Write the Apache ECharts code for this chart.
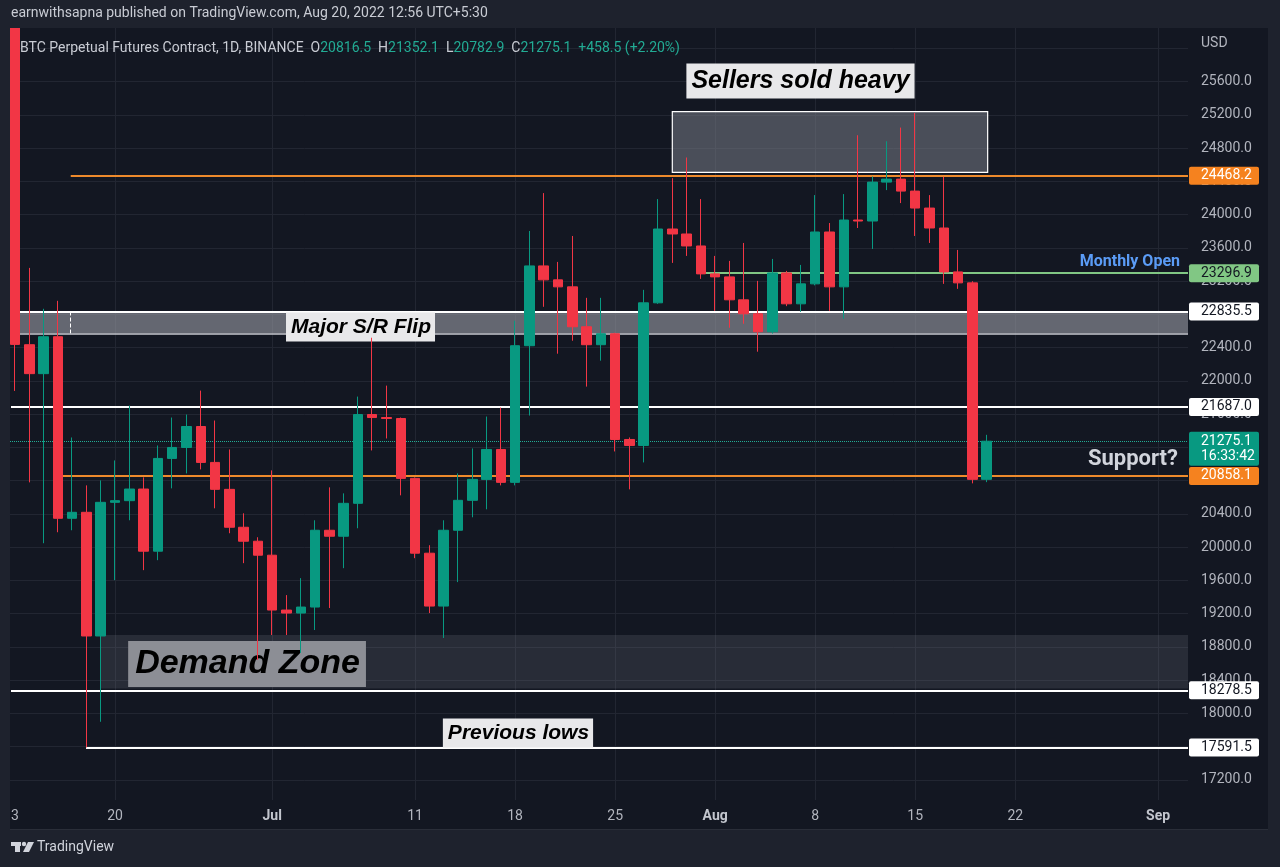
<!DOCTYPE html>
<html>
<head>
<meta charset="utf-8">
<title>BTC Perpetual Futures 1D</title>
<script src="https://cdn.jsdelivr.net/npm/echarts@6/dist/echarts.min.js"></script>
<style>
  html, body { margin: 0; padding: 0; background: #1e222d; }
  #chart { width: 1280px; height: 867px; }
</style>
</head>
<body>
<div id="chart"></div>
<script>
// Daily candles, index 0 = Jun 13 2022 ... index 68 = Aug 20 2022
const opens = [26550, 22436, 22088, 22532, 20348, 20420, 18932, 20540, 20560, 20700,
  19952, 21068, 21200, 21452, 21020, 20696, 20240, 20072, 19904, 19244,
  19208, 19280, 20204, 20132, 20528, 21596, 21560, 21548, 20828, 19928,
  19292, 20204, 20564, 20816, 21176, 20780, 22424, 23384, 23216, 23132,
  22652, 22436, 22568, 21296, 21224, 22940, 23828, 23768, 23624, 23288,
  23252, 22976, 22808, 22592, 23300, 22928, 23168, 23792, 23132, 23936,
  23924, 24392, 24428, 24284, 24080, 23840, 23312, 23180, 20816.5];
const closes = [22440, 22088, 22532, 20348, 20420, 18932, 20540, 20560, 20700, 19952,
  21068, 21200, 21452, 21020, 20696, 20240, 20072, 19904, 19244, 19208,
  19280, 20204, 20132, 20528, 21596, 21560, 21548, 20828, 19928, 19292,
  20204, 20564, 20816, 21176, 20780, 22424, 23384, 23216, 23132, 22652,
  22436, 22568, 21296, 21224, 22940, 23828, 23768, 23624, 23288, 23252,
  22976, 22808, 22592, 23300, 22928, 23168, 23792, 23132, 23936, 23924,
  24392, 24428, 24284, 24080, 23840, 23312, 23180, 20816.5, 21275.1];
const lows = [21880, 20780, 20048, 20180, 20204, 17592, 17900, 19604, 20324, 19724,
  19844, 20708, 20888, 20936, 20468, 20168, 19808, 18644, 18944, 18944,
  18728, 19004, 19268, 19748, 20228, 21164, 21308, 20624, 19868, 19208,
  18908, 19580, 20360, 20456, 20744, 20744, 21584, 22892, 22328, 22484,
  21932, 22244, 21152, 20696, 21020, 22928, 23420, 23504, 23228, 22844,
  22640, 22688, 22352, 22570, 22900, 22832, 23150, 22844, 22748, 23840,
  23588, 24296, 24140, 23744, 23660, 23168, 23108, 20768, 20782.9];
const highs = [26900, 23360, 22868, 22964, 21320, 20744, 20804, 21044, 21704, 20840,
  21224, 21560, 21596, 21884, 21524, 21176, 20408, 20120, 20924, 19424,
  19628, 20324, 20720, 20648, 21812, 22520, 21944, 21560, 20840, 20024,
  20324, 20888, 21188, 21572, 21680, 22724, 23804, 24260, 23432, 23744,
  23000, 23000, 22580, 21320, 23096, 24188, 24440, 24688, 24188, 23504,
  23444, 23660, 23204, 23468, 23324, 23396, 24236, 23900, 24248, 24956,
  24460, 24884, 25048, 25224, 24236, 24456, 23576, 23200, 21352.1];

// axis ticks
const priceTicks = [17200, 17600, 18000, 18400, 18800, 19200, 19600, 20000, 20400, 20800, 21200,
  21600, 22000, 22400, 22800, 23200, 23600, 24000, 24400, 24800, 25200, 25600];
const gridPrices = priceTicks.concat([26000]);
const xTickIdx = [0, 7, 18, 28, 35, 42, 49, 56, 63, 70, 80];
const xTickLabels = ['3', '20', 'Jul', '11', '18', '25', 'Aug', '8', '15', '22', 'Sep'];

// drawn price levels
const resistance = 24468.2;
const support = 20858.1;
const midLevel = 21687.0;
const demandLow = 18278.5;
const prevLow = 17591.5;
const monthlyOpen = 23296.9;
const flipTop = 22835.5;
const flipBottom = 22573;
const lastPrice = 21275.1;
const lastTime = '16:33:42';

const X_MIN = -0.35, X_MAX = 82.09;
const Y_MIN = 16959, Y_MAX = 26246;
const UP = '#089981', DOWN = '#f23645';
const ORANGE = '#ee8a2c';
const GRIDC = '#222632';

const candles = opens.map((o, i) => [i, o, closes[i], lows[i], highs[i]]);

function tag(text, bg, fg) {
  return {
    show: true, position: 'end', distance: 1, formatter: text,
    backgroundColor: bg, color: fg, fontSize: 14, fontFamily: 'Roboto',
    lineHeight: 14, padding: [2, 8, 2, 12], width: 50, borderRadius: 2
  };
}
function hLine(y, x0, color, width, label, type) {
  return [
    { coord: [x0, y], lineStyle: { color: color, width: width, type: type || 'solid' },
      label: label || { show: false } },
    { coord: [X_MAX, y] }
  ];
}
function boxLabel(text, size, bg, pad) {
  return {
    show: true, position: 'inside', formatter: text, color: '#000',
    fontFamily: 'Liberation Sans', fontStyle: 'italic', fontWeight: 'bold',
    fontSize: size, lineHeight: size + 2, backgroundColor: bg, padding: pad
  };
}

const chart = echarts.init(document.getElementById('chart'));

const option = {
  animation: false,
  backgroundColor: '#1e222d',
  grid: { left: 10, right: 92, top: 28, bottom: 67, containLabel: false, outerBoundsMode: 'none' },
  xAxis: {
    type: 'value', min: X_MIN, max: X_MAX,
    axisLine: { show: false }, axisTick: { show: false }, splitLine: { show: false },
    axisLabel: {
      customValues: xTickIdx,
      formatter: function (v) {
        const t = xTickLabels[xTickIdx.indexOf(v)];
        if (t === undefined) return '';
        return /^[A-Z]/.test(t) ? '{b|' + t + '}' : t;
      },
      color: '#b2b5be', fontSize: 14, fontFamily: 'Roboto', margin: 9,
      rich: { b: { fontWeight: 'bold', color: '#c3c6ce', fontSize: 14, fontFamily: 'Roboto' } }
    }
  },
  yAxis: {
    type: 'value', position: 'right', min: Y_MIN, max: Y_MAX, scale: true,
    axisLine: { show: false }, axisTick: { show: false }, splitLine: { show: false },
    axisLabel: {
      customValues: priceTicks,
      formatter: function (v) { return v.toFixed(1); },
      color: '#b2b5be', fontSize: 14, fontFamily: 'Roboto', margin: 13
    }
  },
  graphic: [
    { type: 'rect', z: -10, silent: true, shape: { x: 10, y: 28, width: 1258, height: 801 }, style: { fill: '#131722' } },
    { type: 'rect', z: -9, silent: true, shape: { x: 10, y: 829, width: 1258, height: 1 }, style: { fill: '#2a2e39' } },
    // header strip sits above the pane, so the tall first candle stops at the pane edge
    { type: 'rect', z: 100, silent: true, shape: { x: 0, y: 0, width: 1280, height: 28 }, style: { fill: '#1e222d' } },
    { type: 'text', z: 101, x: 11, y: 13, style: {
      text: 'earnwithsapna published on TradingView.com, Aug 20, 2022 12:56 UTC+5:30',
      fill: '#c9ccd4', font: '14px Roboto', verticalAlign: 'middle' } },
    { type: 'text', z: 101, x: 20, y: 48, style: {
      text: 'BTC Perpetual Futures Contract, 1D, BINANCE  O{v|20816.5}  H{v|21352.1}  L{v|20782.9}  C{v|21275.1}  {v|+458.5 (+2.20%)}',
      fill: '#c9ccd4', font: '14px Roboto', verticalAlign: 'middle',
      rich: { v: { fill: '#22ab94', font: '14px Roboto' } } } },
    { type: 'text', x: 1201, y: 43, style: { text: 'USD', fill: '#b2b5be', font: '14px Roboto', verticalAlign: 'middle' } },
    // TradingView mark
    { type: 'rect', shape: { x: 11, y: 842, width: 10, height: 4 }, style: { fill: '#d1d4dc' } },
    { type: 'rect', shape: { x: 15, y: 842, width: 5, height: 10 }, style: { fill: '#d1d4dc' } },
    { type: 'circle', shape: { cx: 24, cy: 844, r: 2.2 }, style: { fill: '#d1d4dc' } },
    { type: 'polygon', shape: { points: [[28, 842], [34, 842], [29, 852], [23, 852]] }, style: { fill: '#d1d4dc' } },
    { type: 'text', x: 37, y: 847, style: { text: 'TradingView', fill: '#d1d4dc', font: '14px Roboto', verticalAlign: 'middle' } }
  ],
  series: [
    {
      name: 'grid', type: 'line', data: [], silent: true,
      markLine: {
        silent: true, z: 0.5, symbol: ['none', 'none'], label: { show: false },
        lineStyle: { color: GRIDC, width: 1, type: 'solid' },
        data: gridPrices.map(p => ({ yAxis: p })).concat(xTickIdx.slice(1).map(i => ({ xAxis: i })))
      }
    },
    {
      name: 'zones', type: 'line', data: [], silent: true,
      markArea: {
        silent: true, z: 1, label: { show: false },
        data: [
          [{ coord: [46.0, 25239], itemStyle: { color: 'rgba(120,123,134,0.55)', borderColor: '#ffffff', borderWidth: 1.2 } },
           { coord: [68.07, 24510] }],
          [{ coord: [0.28, flipTop], itemStyle: { color: 'rgba(150,153,162,0.62)' } }, { coord: [X_MAX, flipBottom] }],
          [{ coord: [5.95, 18944], itemStyle: { color: 'rgba(120,123,134,0.22)' } }, { coord: [X_MAX, 18300] }]
        ]
      }
    },
    {
      name: 'levels', type: 'line', data: [], silent: true,
      markLine: {
        silent: true, z: 2, symbol: ['none', 'none'],
        data: [
          hLine(flipBottom, 0.28, '#c8cad0', 1.5),
          [{ coord: [3.9, flipTop], lineStyle: { color: '#ffffff', width: 1 }, label: { show: false } },
           { coord: [3.9, flipBottom] }],
          hLine(flipTop, 0.28, '#ffffff', 2, tag(flipTop.toFixed(1), '#ffffff', '#131722')),
          hLine(resistance, 3.9, ORANGE, 2, tag(resistance.toFixed(1), '#f5821f', '#ffffff')),
          hLine(support, 3.27, ORANGE, 2, tag(support.toFixed(1), '#f5821f', '#ffffff')),
          hLine(midLevel, -0.28, '#ffffff', 2, tag(midLevel.toFixed(1), '#ffffff', '#131722')),
          hLine(demandLow, -0.28, '#ffffff', 2, tag(demandLow.toFixed(1), '#ffffff', '#131722')),
          hLine(prevLow, 4.97, '#ffffff', 2, tag(prevLow.toFixed(1), '#ffffff', '#131722')),
          hLine(monthlyOpen, 48.05, '#81c784', 2, tag(monthlyOpen.toFixed(1), '#81c784', '#131722')),
          hLine(lastPrice, X_MIN, '#22ab94', 1,
            Object.assign(tag(lastPrice.toFixed(1) + '\n' + lastTime, '#089981', '#ffffff'),
              { lineHeight: 15, offset: [0, 7.5] }), 'dotted')
        ]
      }
    },
    {
      name: 'notes', type: 'line', data: [], silent: true,
      markPoint: {
        silent: true, z: 2.5, symbol: 'rect', symbolSize: 0,
        data: [
          { coord: [54.97, 25608], label: boxLabel('Sellers sold heavy', 25, '#e8e8ea', [4, 5, 4, 5]) },
          { coord: [24.18, 22649], label: boxLabel('Major S/R Flip', 21, '#e8e8ea', [3, 4, 3, 5]) },
          { coord: [16.24, 18595], label: boxLabel('Demand Zone', 34, '#8c8e95', [5, 6, 5, 7]) },
          { coord: [35.2, 17766], label: boxLabel('Previous lows', 21, '#e8e8ea', [3, 4, 3, 5]) },
          { coord: [X_MAX, 23435], label: { show: true, position: 'left', distance: 8, formatter: 'Monthly Open',
              color: '#5b9cf6', fontSize: 16, fontWeight: 'bold', fontFamily: 'Roboto' } },
          { coord: [X_MAX, 21061], label: { show: true, position: 'left', distance: 10, formatter: 'Support?',
              color: '#d1d4dc', fontSize: 22, fontWeight: 'bold', fontFamily: 'Roboto' } }
        ]
      }
    },
    {
      name: 'BTCUSDT.P', type: 'candlestick', z: 3, barWidth: 10, clip: true,
      data: candles,
      itemStyle: { color: UP, color0: DOWN, borderColor: UP, borderColor0: DOWN, borderWidth: 1 }
    }
  ]
};

chart.setOption(option);
</script>
</body>
</html>
